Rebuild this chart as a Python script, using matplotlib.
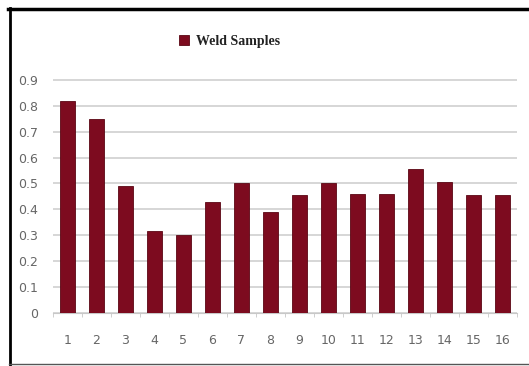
import matplotlib
matplotlib.use("Agg")
import matplotlib.pyplot as plt
from matplotlib.lines import Line2D

samples = [str(i) for i in range(1, 17)]
values = [0.82, 0.75, 0.49, 0.315, 0.30, 0.43, 0.50, 0.39,
          0.455, 0.50, 0.46, 0.46, 0.555, 0.505, 0.455, 0.455]
yticks = [0, 0.1, 0.2, 0.3, 0.4, 0.5, 0.6, 0.7, 0.8, 0.9]

fig = plt.figure(figsize=(5.29, 3.66), dpi=100)
ax = fig.add_axes([53/529, 1 - 313/366, (517 - 53)/529, (313 - 72)/366])

x = range(len(samples))
ax.bar(x, values, width=0.5, color="#7d0b1f", edgecolor="#5a0614",
       linewidth=0.6, label="Weld Samples", zorder=3)

ax.set_ylim(0, 0.93)
ax.set_xlim(-0.5, len(samples) - 0.5)
ax.set_yticks(yticks)
ax.set_yticklabels(["0" if v == 0 else f"{v:.1f}" for v in yticks])
ax.set_xticks(list(x))
ax.set_xticklabels(samples)
ax.yaxis.grid(True, color="#d0d0d0", linewidth=1.2, zorder=0)
for s in ["top", "right", "left"]:
    ax.spines[s].set_visible(False)
ax.spines["bottom"].set_color("#c8c8c8")
ax.tick_params(axis="y", length=0, labelsize=9, colors="#666666", pad=11)
ax.tick_params(axis="x", length=0, labelsize=9, colors="#666666", pad=15)

# minor tick marks between categories
ax.set_xticks([i + 0.5 for i in range(-1, len(samples))], minor=True)
ax.tick_params(axis="x", which="minor", length=3, color="#c8c8c8")

leg = fig.legend(loc="upper left", bbox_to_anchor=(166/529, 1 - 22/366),
                 frameon=False, handlelength=0.75, handleheight=0.75,
                 handletextpad=0.5,
                 prop={"family": "Liberation Serif", "weight": "bold", "size": 10})
leg.get_texts()[0].set_color("#222222")

# frame: thick top and left, thin bottom, open on the right
H, W = 366, 529
fig.lines.append(Line2D([8/W, 1], [1 - 9/H, 1 - 9/H], transform=fig.transFigure,
                        color="black", linewidth=2.5))
fig.lines.append(Line2D([9.5/W, 9.5/W], [1 - 8/H, 0], transform=fig.transFigure,
                        color="black", linewidth=2))
fig.lines.append(Line2D([9/W, 1], [1 - 364/H, 1 - 364/H], transform=fig.transFigure,
                        color="#555555", linewidth=1))

fig.savefig("out.png", dpi=100)
